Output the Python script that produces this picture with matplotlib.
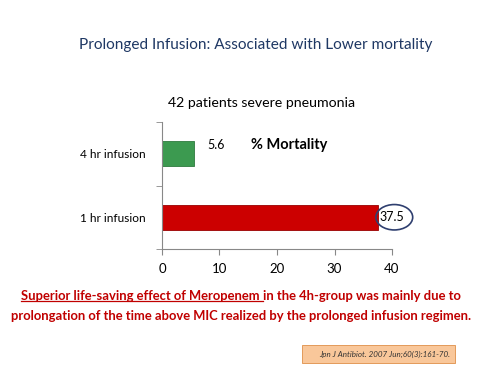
import matplotlib
matplotlib.use("Agg")
import matplotlib.pyplot as plt
from matplotlib.patches import Ellipse, FancyBboxPatch

categories = ["1 hr infusion", "4 hr infusion"]
mortality = [37.5, 5.6]
bar_colors = ["#CC0000", "#3C9A50"]
xticks = [0, 10, 20, 30, 40]

plt.rcParams['font.family'] = ['Lato', 'DejaVu Sans']

fig = plt.figure(figsize=(5.02, 3.76), dpi=100)
fig.patch.set_facecolor("white")

ax = fig.add_axes([162/502, 1-249/376, 230/502, 127/376])
ypos = list(range(len(categories)))
ax.barh(ypos, mortality, height=0.4, color=bar_colors,
        edgecolor=["#990000", "#2E7A3E"], linewidth=0.6)
ax.set_xlim(0, 40)
ax.set_ylim(-0.5, 1.5)
ax.set_xticks(xticks)
ax.set_xticklabels([str(v) for v in xticks], fontsize=9.5)
ax.set_yticks(ypos)
ax.set_yticklabels(categories, fontsize=8.6)
ax.set_yticks([-0.5, 0.5, 1.5], minor=True)
ax.tick_params(axis='y', which='major', length=0, pad=12)
ax.tick_params(axis='y', which='minor', length=4, color="#888888")
ax.tick_params(axis='x', length=4, color="#888888", pad=6)
for s in ["top", "right"]:
    ax.spines[s].set_visible(False)
for s in ["left", "bottom"]:
    ax.spines[s].set_color("#888888")
    ax.spines[s].set_linewidth(0.8)

ax.text(9.4, 1.14, f"{mortality[1]}", fontsize=9, ha="center", va="center")
ax.text(40.0, 0, f"{mortality[0]}", fontsize=9, ha="center", va="center")
ax.add_patch(Ellipse((40.4, 0), 6.4, 0.4, fill=False,
                     edgecolor="#2F3F6F", linewidth=1.2, clip_on=False))
ax.text(22.1, 1.14, "% Mortality", fontsize=10.5, fontweight="bold", ha="center", va="center")

fig.text(256/502, 1-45/376, "Prolonged Infusion: Associated with Lower mortality",
         fontsize=11.1, color="#1F3864", ha="center", va="center")
fig.text(262/502, 1-103/376, "42 patients severe pneumonia",
         fontsize=10.2, color="black", ha="center", va="center")

red = "#C00000"
fs = 9.4
t1 = fig.text(21/502, 1-296/376, "Superior life-saving effect of Meropenem ",
              fontsize=fs, color=red, fontweight="bold", ha="left", va="center")
fig.canvas.draw()
bb = t1.get_window_extent()
fig.add_artist(plt.Line2D([bb.x0/502, bb.x1/502], [(bb.y0+1)/376, (bb.y0+1)/376],
                          color=red, linewidth=0.9, transform=fig.transFigure))
fig.text(bb.x1/502, 1-296/376, "in the 4h-group was mainly due to",
         fontsize=fs, color=red, fontweight="bold", ha="left", va="center")
fig.text(241/502, 1-316/376,
         "prolongation of the time above MIC realized by the prolonged infusion regimen.",
         fontsize=fs, color=red, fontweight="bold", ha="center", va="center")

box = FancyBboxPatch((302/502, 1-363/376), 153/502, 18/376,
                     boxstyle="square,pad=0", transform=fig.transFigure,
                     facecolor="#F9C79A", edgecolor="#E39A5A", linewidth=0.7)
fig.add_artist(box)
fig.text(450/502, 1-354/376, "Jpn J Antibiot. 2007 Jun;60(3):161-70.",
         fontsize=5.8, style="italic", ha="right", va="center", color="#333333")

fig.savefig("out.png", dpi=100, facecolor="white")
